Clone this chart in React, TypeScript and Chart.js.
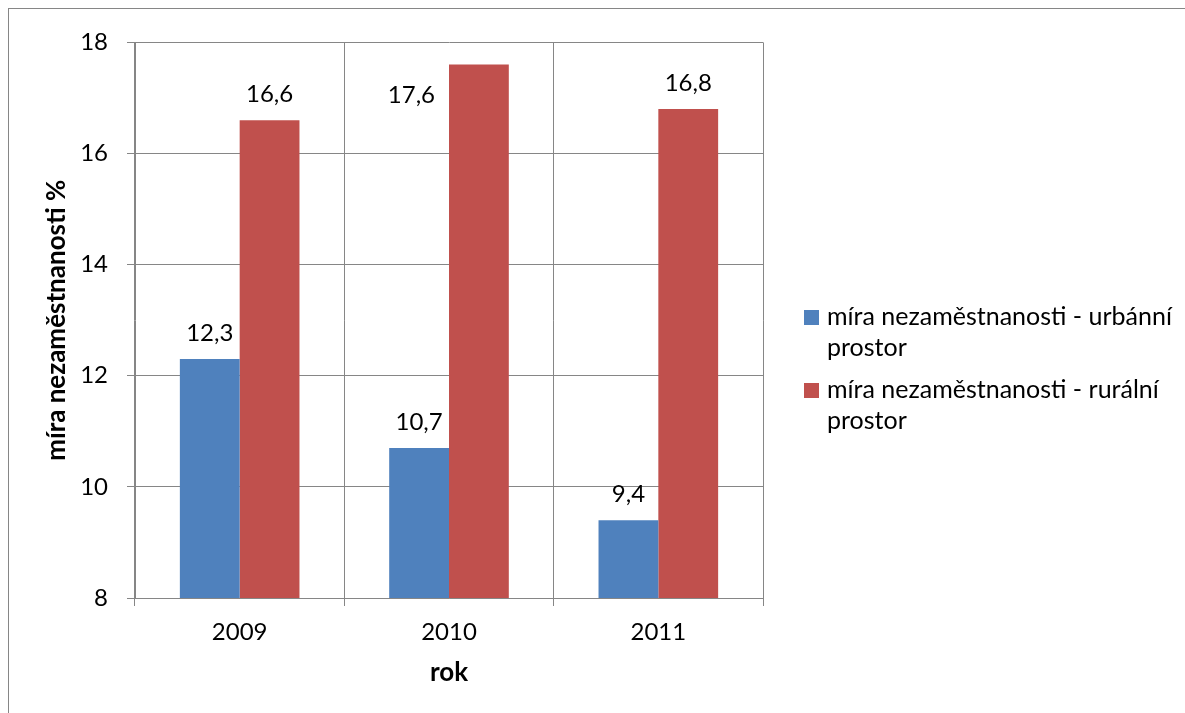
import React, { useEffect, useRef } from 'react';
import { Chart, registerables } from 'chart.js';

Chart.register(...registerables);

const categories = ['2009', '2010', '2011'];
const urbanValues = [12.3, 10.7, 9.4];
const ruralValues = [16.6, 17.6, 16.8];
const seriesLabels = [
  'míra nezaměstnanosti - urbánní prostor',
  'míra nezaměstnanosti - rurální prostor',
];
const seriesColors = ['#4F81BD', '#C0504D'];
const yTitle = 'míra nezaměstnanosti %';
const xTitle = 'rok';
const yMin = 8;
const yMax = 18;
const yStep = 2;

const FONT = 'Lato';
const FS_NUM = 24;
const FS_TEXT = 25;
const FS_TITLE = 26;
const GRID = '#868686';
const W = 1176;
const H = 704;

const valueLabels = {
  id: 'valueLabels',
  afterDatasetsDraw(chart: any) {
    const ctx = chart.ctx;
    const top = chart.chartArea.top;
    ctx.save();
    ctx.font = `${FS_NUM}px ${FONT}`;
    ctx.fillStyle = '#000';
    ctx.textBaseline = 'alphabetic';
    chart.data.datasets.forEach((ds: any, i: number) => {
      const meta = chart.getDatasetMeta(i);
      meta.data.forEach((bar: any, j: number) => {
        const v = ds.data[j] as number;
        const txt = v.toFixed(1).replace('.', ',');
        const baseline = bar.y - 18;
        if (baseline - 18 < top) {
          // not enough room above the bar: place the label to its left
          ctx.textAlign = 'right';
          ctx.fillText(txt, bar.x - bar.width / 2 - 14, bar.y + 38);
        } else {
          ctx.textAlign = 'center';
          ctx.fillText(txt, bar.x, baseline);
        }
      });
    });
    ctx.restore();
  },
};

const sideLegend = {
  id: 'sideLegend',
  afterDraw(chart: any) {
    const ctx = chart.ctx;
    ctx.save();
    ctx.font = `${FS_TEXT}px ${FONT}`;
    ctx.textAlign = 'left';
    ctx.textBaseline = 'alphabetic';
    const boxX = 795;
    const textX = 818;
    const maxW = 400;
    const lineH = 31;
    let baseline = 316;
    chart.data.datasets.forEach((ds: any) => {
      ctx.fillStyle = ds.backgroundColor;
      ctx.fillRect(boxX, baseline - 15, 15, 15);
      const words = String(ds.label).split(' ');
      const lines: string[] = [];
      let cur = '';
      words.forEach((w) => {
        const test = cur ? cur + ' ' + w : w;
        if (ctx.measureText(test).width > maxW && cur) {
          lines.push(cur);
          cur = w;
        } else {
          cur = test;
        }
      });
      if (cur) lines.push(cur);
      ctx.fillStyle = '#000';
      lines.forEach((l, k) => ctx.fillText(l, textX, baseline + k * lineH));
      baseline += lines.length * lineH + 11;
    });
    ctx.restore();
  },
};

export default function App() {
  const ref = useRef<HTMLCanvasElement | null>(null);

  useEffect(() => {
    if (!ref.current) return;
    const chart = new Chart(ref.current, {
      type: 'bar',
      data: {
        labels: categories,
        datasets: [
          {
            label: seriesLabels[0],
            data: urbanValues,
            backgroundColor: seriesColors[0],
            borderWidth: 0,
            categoryPercentage: 2 / 3.5,
            barPercentage: 1,
          },
          {
            label: seriesLabels[1],
            data: ruralValues,
            backgroundColor: seriesColors[1],
            borderWidth: 0,
            categoryPercentage: 2 / 3.5,
            barPercentage: 1,
          },
        ],
      },
      options: {
        responsive: false,
        animation: false,
        layout: { padding: { left: 0, right: 422, top: 32, bottom: 0 } },
        plugins: {
          legend: { display: false },
          tooltip: { enabled: false },
        },
        scales: {
          x: {
            grid: { offset: true, color: GRID, tickLength: 8, drawTicks: true },
            border: { color: GRID },
            ticks: { font: { family: FONT, size: FS_NUM }, color: '#000', padding: 12 },
            title: {
              display: true,
              text: xTitle,
              color: '#000',
              font: { family: FONT, size: FS_TITLE, weight: 'bold', lineHeight: 1.2 },
              padding: { top: 0, bottom: 25 },
            },
            afterFit(s: any) {
              s.height = 115;
            },
          },
          y: {
            min: yMin,
            max: yMax,
            ticks: {
              stepSize: yStep,
              font: { family: FONT, size: FS_NUM },
              color: '#000',
              padding: 19,
            },
            grid: { color: GRID, tickLength: 8, drawTicks: true },
            border: { color: GRID },
            title: {
              display: true,
              text: yTitle,
              color: '#000',
              font: { family: FONT, size: FS_TITLE, weight: 'bold', lineHeight: 1.2 },
              padding: { top: 32, bottom: 0 },
            },
            afterFit(s: any) {
              s.width = 126;
            },
          },
        },
      } as any,
      plugins: [valueLabels, sideLegend],
    });
    return () => chart.destroy();
  }, []);

  return (
    <div
      style={{
        position: 'fixed',
        left: 8,
        top: 8,
        width: W + 1,
        height: H + 1,
        boxSizing: 'border-box',
        borderTop: `1px solid ${GRID}`,
        borderLeft: `1px solid ${GRID}`,
        background: '#fff',
      }}
    >
      <canvas ref={ref} width={W} height={H} style={{ display: 'block' }} />
    </div>
  );
}
